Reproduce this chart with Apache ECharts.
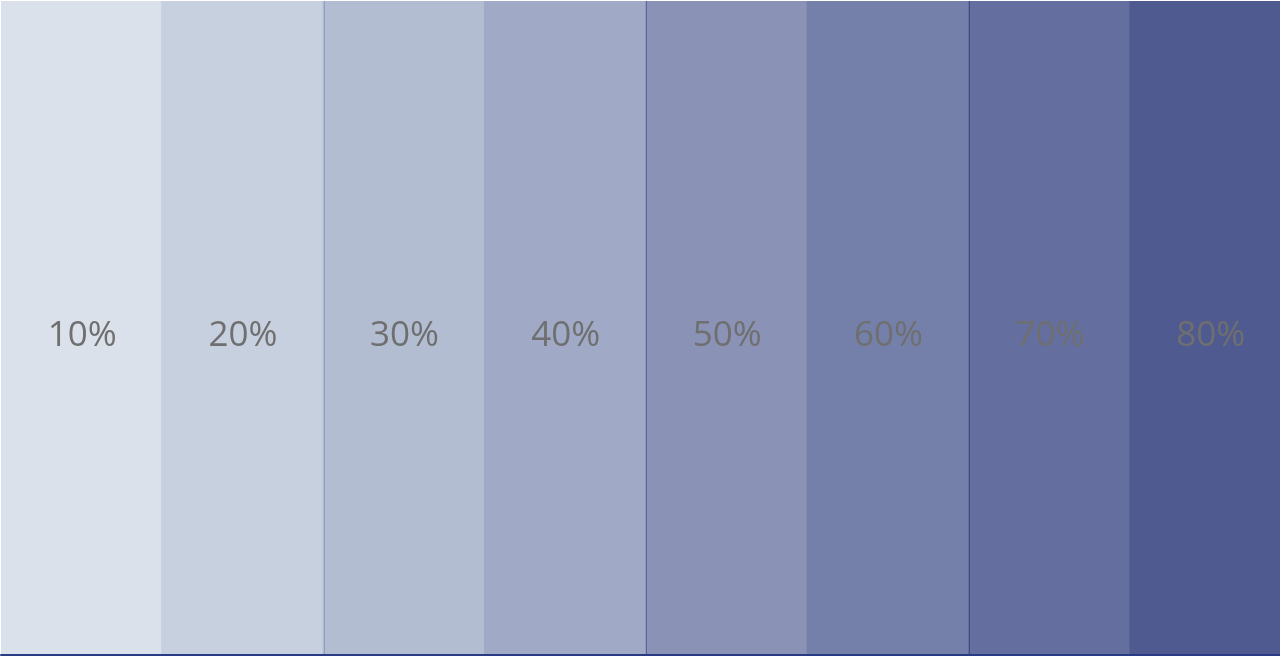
<!DOCTYPE html>
<html>
<head>
<meta charset="utf-8">
<script src="https://cdn.jsdelivr.net/npm/echarts@6/dist/echarts.min.js"></script>
<style>html,body{margin:0;padding:0;background:#fff}#c{width:1280px;height:656px}</style>
</head>
<body>
<div id="c"></div>
<script>
const categories = ['10%', '20%', '30%', '40%', '50%', '60%', '70%', '80%'];
const values = [100, 100, 100, 100, 100, 100, 100, 100];
const barColors = ['#dae1ea', '#c7d0de', '#b2bdd2', '#a0aac6', '#8a93b6', '#7580aa', '#646f9f', '#4f5b90'];
const dividerColors = ['rgba(0,0,0,0)', '#8f9bc5', '#5a64a0', '#3f4a8b', 'rgba(0,0,0,0)'];

const chart = echarts.init(document.getElementById('c'));
chart.setOption({
  animation: false,
  grid: { left: 1, right: -12, top: 1, bottom: 1, outerBoundsMode: 'none', containLabel: false },
  xAxis: [{
    type: 'category',
    data: categories,
    axisLine: { show: true, lineStyle: { color: '#2a3b85', width: 2 } },
    axisTick: { show: false },
    axisLabel: { show: false },
    splitLine: { show: false },
    z: 10
  }, {
    type: 'value',
    min: 0,
    max: 8,
    interval: 2,
    position: 'bottom',
    axisLine: { show: false },
    axisTick: { show: false },
    axisLabel: { show: false },
    splitLine: { show: true, lineStyle: { color: dividerColors, width: 1 } },
    z: 10
  }],
  yAxis: { type: 'value', min: 0, max: 100, show: false, splitLine: { show: false } },
  series: [{
    type: 'bar',
    xAxisIndex: 0,
    barWidth: '101.5%',
    barGap: '-100%',
    data: values.map((v, i) => ({ value: v, itemStyle: { color: barColors[i] } })),
    label: {
      show: true,
      position: 'inside',
      offset: [0, 8],
      formatter: p => p.name,
      color: '#6f6f6f',
      fontFamily: 'Open Sans',
      fontSize: 35,
      fontWeight: 'normal'
    },
    z: 1
  }]
});
</script>
</body>
</html>
